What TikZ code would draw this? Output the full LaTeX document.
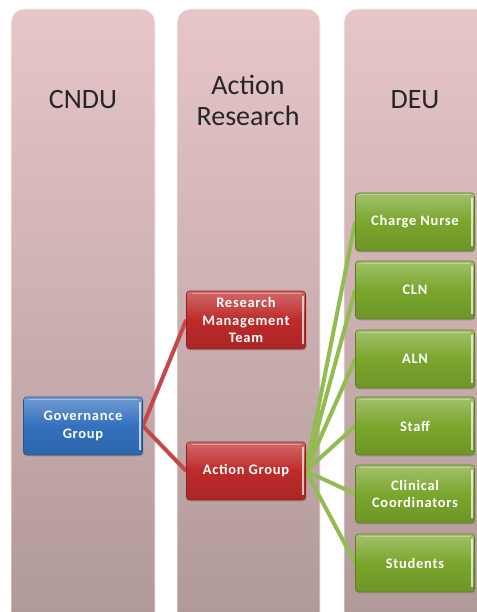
\documentclass[tikz,border=0pt]{standalone}
\usepackage{fontspec}
\setmainfont{Carlito}
\newfontfamily\boxfont[LetterSpace=5]{Carlito Bold}
\usetikzlibrary{shadows}
\definecolor{colTop}{RGB}{231,198,201}
\definecolor{colBot}{RGB}{176,152,152}
\definecolor{blueB}{RGB}{52,112,190}
\definecolor{redB}{RGB}{190,42,42}
\definecolor{greenB}{RGB}{122,166,44}
\definecolor{redLink}{RGB}{196,72,72}
\definecolor{greenLink}{RGB}{146,188,80}
\pgfdeclarelayer{cols}
\pgfdeclarelayer{links}
\pgfsetlayers{cols,links,main}
\tikzset{
  column/.style={rounded corners=13pt, top color=colTop, bottom color=colBot,
    draw=white!80!colTop, line width=0.8pt},
  header/.style={font=\fontsize{28}{31}\selectfont, align=center, text=black!85},
  unit/.style={draw=#1!75!black, line width=0.6pt, rounded corners=3pt,
    top color=#1!70!white, bottom color=#1!90!black, middle color=#1,
    minimum width=119pt, minimum height=58pt, text=white, align=center,
    font=\boxfont\fontsize{14.5}{17.5}\selectfont, inner sep=2pt,
    drop shadow={opacity=0.35, shadow xshift=1pt, shadow yshift=-1.5pt},
    path picture={
      \draw[white, opacity=0.7, line width=1.2pt]
        ([xshift=-2.5pt,yshift=-5pt]path picture bounding box.north east) --
        ([xshift=-2.5pt,yshift=5pt]path picture bounding box.south east);
      \draw[white, opacity=0.35, line width=1pt]
        ([xshift=5pt,yshift=-2pt]path picture bounding box.north west) --
        ([xshift=-5pt,yshift=-2pt]path picture bounding box.north east);
    }},
  link/.style={line width=4pt}
}
\begin{document}
\begin{tikzpicture}[x=1pt, y=-1pt]
\useasboundingbox (0,0) rectangle (476,612);
\clip (0,0) rectangle (476,612);

% white page and the three background columns
\begin{pgfonlayer}{cols}
  \fill[white] (0,0) rectangle (476,612);
  \path[column] (11,9) rectangle (155,628);
  \path[column] (177,9) rectangle (320,628);
  \path[column] (344,9) rectangle (492,628);
\end{pgfonlayer}

% column headings
\node[header] (hCNDU) at (83,100) {CNDU};
\node[header] (hAR) at (248,100) {Action\\Research};
\node[header] (hDEU) at (415,100) {DEU};

% boxes
\node[unit=blueB] (gov) at (83,426) {Governance\\Group};
\node[unit=redB] (rmt) at (246,320) {Research\\Management\\Team};
\node[unit=redB] (ag) at (246,471) {Action Group};

\node[unit=greenB] (cn) at (415,222) {Charge Nurse};
\node[unit=greenB] (cln) at (415,290) {CLN};
\node[unit=greenB] (aln) at (415,359) {ALN};
\node[unit=greenB] (staff) at (415,426) {Staff};
\node[unit=greenB] (cc) at (415,494) {Clinical\\Coordinators};
\node[unit=greenB] (stu) at (415,563) {Students};

% connectors
\begin{pgfonlayer}{links}
  \draw[link, redLink] (rmt.west) -- (gov.east) -- (ag.west);
  \foreach \n in {cn,cln,aln,staff,cc,stu}
    \draw[link, greenLink] (ag.east) -- (\n.west);
\end{pgfonlayer}
\end{tikzpicture}
\end{document}
